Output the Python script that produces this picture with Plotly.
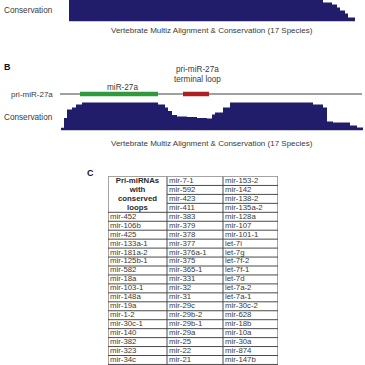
import plotly.graph_objects as go

W = H = 365
FONT = "Liberation Sans, Arial, sans-serif"

# ---------------- data ----------------
# Panel A conservation profile (position nt, score); steps
cons_a_pos = [0, 254, 263, 268, 271, 276, 279, 286]
cons_a_val = [1.0, 0.68, 0.61, 0.50, 0.39, 0.29, 0.14, 0.14]

# Panel B conservation profile
cons_b_pos = [0, 3, 6, 11, 15, 21, 97, 104, 107, 111, 116, 126, 136, 146, 151, 154, 162, 169, 252, 262, 266, 272, 289, 296, 302]
cons_b_val = [0.10, 0.45, 0.75, 0.82, 0.93, 1.0, 0.93, 0.82, 0.70, 0.55, 0.50, 0.48, 0.45, 0.43, 0.57, 0.64, 0.82, 1.0, 0.93, 0.82, 0.32, 0.29, 0.18, 0.11, 0.11]

# Gene model of pri-miR-27a (positions in nt along track B)
pri_span = [-1, 301]
mir27a_span = [19, 97]
loop_span = [122, 148]

# Table (panel C)
col0 = ["mir-452", "mir-106b", "mir-425", "mir-133a-1", "mir-181a-2", "mir-125b-1", "mir-582",
        "mir-18a", "mir-103-1", "mir-148a", "mir-19a", "mir-1-2", "mir-30c-1", "mir-140",
        "mir-382", "mir-323", "mir-34c"]
col1 = ["mir-7-1", "mir-592", "mir-423", "mir-411", "mir-383", "mir-379", "mir-378", "mir-377",
        "mir-376a-1", "mir-375", "mir-365-1", "mir-331", "mir-32", "mir-31", "mir-29c",
        "mir-29b-2", "mir-29b-1", "mir-29a", "mir-25", "mir-22", "mir-21"]
col2 = ["mir-153-2", "mir-142", "mir-138-2", "mir-135a-2", "mir-128a", "mir-107", "mir-101-1",
        "let-7i", "let-7g", "let-7f-2", "let-7f-1", "let-7d", "let-7a-2", "let-7a-1", "mir-30c-2",
        "mir-628", "mir-18b", "mir-10a", "mir-30a", "mir-874", "mir-147b"]
header_lines = ["Pri-miRNAs", "with", "conserved", "loops"]
header_rows = len(header_lines)

# ---------------- layout helpers ----------------
def px(x):
    return x / W

def py(y):
    return 1 - y / H

NAVY = "#211d6b"
fig = go.Figure()

# Panel A conservation (x1/y1)
fig.add_trace(go.Scatter(x=cons_a_pos, y=cons_a_val, mode="lines", line=dict(shape="hv", width=0, color=NAVY),
                         fill="tozeroy", fillcolor=NAVY, xaxis="x", yaxis="y", hoverinfo="skip"))
# Panel B conservation (x2/y2)
fig.add_trace(go.Scatter(x=cons_b_pos, y=cons_b_val, mode="lines", line=dict(shape="hv", width=0, color=NAVY),
                         fill="tozeroy", fillcolor=NAVY, xaxis="x2", yaxis="y2", hoverinfo="skip"))
# Gene model (x2/y3)
fig.add_trace(go.Scatter(x=pri_span, y=[0, 0], mode="lines", line=dict(color="#a0a0a0", width=1.8),
                         xaxis="x2", yaxis="y3", hoverinfo="skip"))
fig.add_trace(go.Scatter(x=mir27a_span, y=[0, 0], mode="lines", line=dict(color="#2f9a3c", width=4.5),
                         xaxis="x2", yaxis="y3", hoverinfo="skip"))
fig.add_trace(go.Scatter(x=loop_span, y=[0, 0], mode="lines", line=dict(color="#b01e23", width=4.5),
                         xaxis="x2", yaxis="y3", hoverinfo="skip"))

# Table (x4/y4)
col_edges = [0, 59, 115, 170]
n_rows = len(col1)
gx, gy = [], []
for e in col_edges:
    gx += [e, e, None]
    gy += [0, n_rows, None]
for r in range(n_rows + 1):
    start = col_edges[1] if 0 < r < header_rows else col_edges[0]
    gx += [start, col_edges[-1], None]
    gy += [r, r, None]
fig.add_trace(go.Scatter(x=gx, y=gy, mode="lines", line=dict(color="#4a4a4a", width=1),
                         xaxis="x4", yaxis="y4", hoverinfo="skip"))

tx, ty, tt = [], [], []
for ci, col in enumerate([col0, col1, col2]):
    offset = header_rows if ci == 0 else 0
    for i, name in enumerate(col):
        tx.append(col_edges[ci] + 2)
        ty.append(offset + i + 0.5)
        tt.append(name)
fig.add_trace(go.Scatter(x=tx, y=ty, text=tt, mode="text", textposition="middle right",
                         textfont=dict(family=FONT, size=7.8, color="#3a3a3a"),
                         xaxis="x4", yaxis="y4", hoverinfo="skip"))
fig.add_trace(go.Scatter(x=[(col_edges[0] + col_edges[1]) / 2] * header_rows,
                         y=[i + 0.5 for i in range(header_rows)], text=header_lines,
                         mode="text", textposition="middle center",
                         textfont=dict(family=FONT, size=7.8, color="#2a2a2a", weight="bold"),
                         xaxis="x4", yaxis="y4", hoverinfo="skip"))

ax_off = dict(visible=False, showgrid=False, zeroline=False, fixedrange=True)
row_h = 8.95
tbl_top = 176.5
fig.update_layout(
    width=W, height=H, margin=dict(l=0, r=0, t=0, b=0),
    paper_bgcolor="white", plot_bgcolor="white", showlegend=False,
    xaxis=dict(domain=[0, 1], range=[-69, 296], **ax_off),
    yaxis=dict(domain=[py(21.5), 1], range=[0, 21.5 / 28], **ax_off),
    xaxis2=dict(domain=[0, 1], range=[-61, 304], **ax_off),
    yaxis2=dict(domain=[py(130.5), py(100)], range=[0, 30.5 / 28], **ax_off),
    yaxis3=dict(domain=[py(99), py(89)], range=[-1, 1], **ax_off),
    xaxis4=dict(domain=[px(108), px(278)], range=[0, 170], **ax_off),
    yaxis4=dict(domain=[0, py(tbl_top)], range=[(H - tbl_top) / row_h, 0], **ax_off),
)

def label(x, y, text, size=8, color="#3a3a3a", anchor="left", bold=False):
    fig.add_annotation(x=px(x), y=py(y), xref="paper", yref="paper", text=text, showarrow=False,
                       xanchor=anchor, yanchor="middle",
                       font=dict(family=FONT, size=size, color=color, weight="bold" if bold else "normal"))

label(2, 10, "Conservation", 8.2)
label(212, 30, "Vertebrate Multiz Alignment &amp; Conservation (17 Species)", 8, anchor="center")
label(2, 67, "B", 9, "#111111", bold=True)
label(197, 69, "pri-miR-27a", 8.2, anchor="center")
label(197, 79, "terminal loop", 8.2, anchor="center")
label(122, 87, "miR-27a", 8.2, anchor="center")
label(9, 94, "pri-miR-27a", 8)
label(2, 117, "Conservation", 8.2)
label(212, 143, "Vertebrate Multiz Alignment &amp; Conservation (17 Species)", 8, anchor="center")
label(85, 173, "C", 9, "#111111", bold=True)

fig.write_html("out.html", config={"displayModeBar": False},
               post_script="document.body.style.margin='0';document.body.style.overflow='hidden';")
